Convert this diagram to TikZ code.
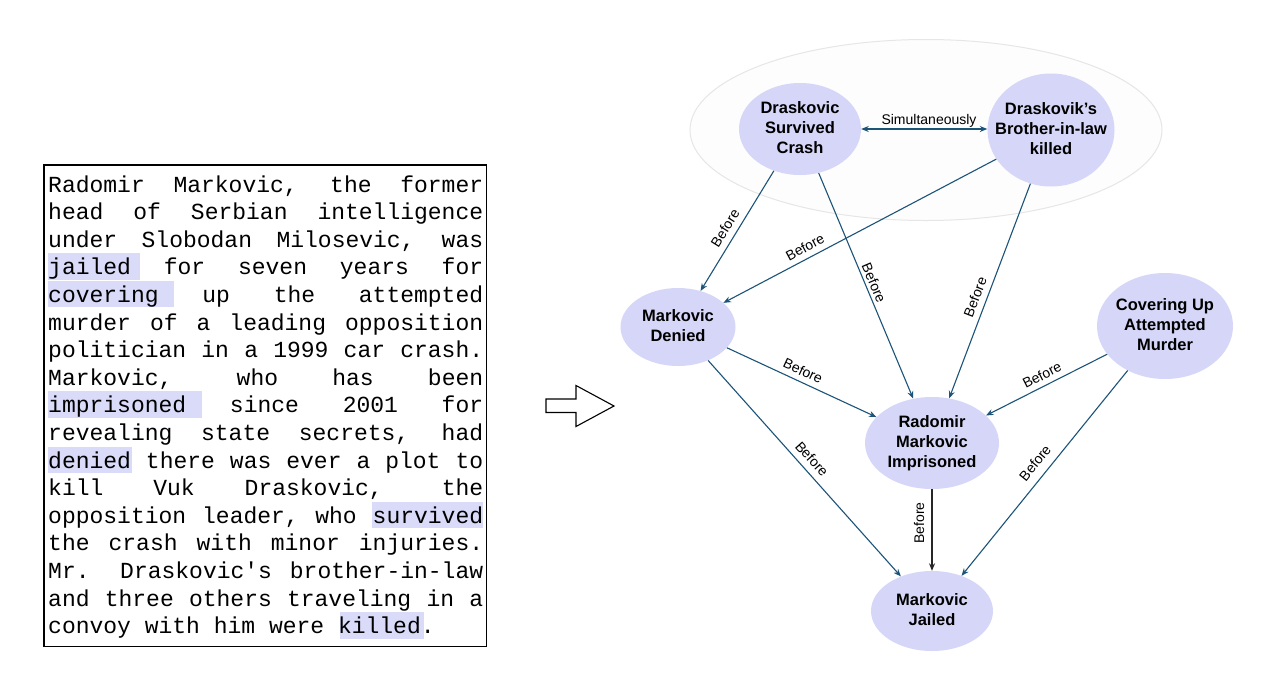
\documentclass[tikz,border=0pt]{standalone}
\usepackage{fontspec}
\setmainfont{Liberation Sans}
\newfontfamily\monofam{Liberation Mono}
\usetikzlibrary{shapes.geometric,arrows.meta}
\definecolor{nodefill}{HTML}{D6D7F8}
\definecolor{hilite}{HTML}{D9DBF8}
\definecolor{edgeblue}{HTML}{1C5379}
\definecolor{groupline}{HTML}{E6E6E6}
\definecolor{groupfill}{HTML}{FDFDFD}
\newcommand\jline[1]{\makebox[435pt][s]{\spaceskip=13.8pt plus 1fil\relax #1}}
\newcommand\ctext[1]{\makebox[0pt]{\begin{tabular}{@{}c@{}}#1\end{tabular}}}
\begin{document}
\begin{tikzpicture}[x=1pt,y=-1pt,
  ev/.style={ellipse, fill=nodefill, inner sep=0pt, font=\bfseries\fontsize{16.5}{20}\selectfont},
  rel/.style={draw=edgeblue, line width=1.1pt, -{Stealth[length=7.5pt,width=6pt]}},
  lbl/.style={font=\fontsize{14}{16}\selectfont, inner sep=0pt},
  txt/.style={anchor=base west, inner sep=0pt, font=\monofam\fontsize{23}{27.6}\selectfont},
  hl/.style={fill=hilite}]
\useasboundingbox[fill=white] (0,0) rectangle (1288,691);

% highlights
\fill[hl] (48,253.3) rectangle (140,279.8);
\fill[hl] (48,280.9) rectangle (174,307.4);
\fill[hl] (48,391.3) rectangle (202,417.8);
\fill[hl] (48,446.5) rectangle (131.5,473);
\fill[hl] (371.7,501.7) rectangle (483.3,528.2);
\fill[hl] (340,612.1) rectangle (424,638.6);

% text block
\node[txt] (t1) at (48,192.0) {\jline{Radomir Markovic, the former}};
\node[txt] (t2) at (48,219.6) {\jline{head of Serbian intelligence}};
\node[txt] (t3) at (48,247.2) {\jline{under Slobodan Milosevic, was}};
\node[txt] (t4) at (48,274.8) {\jline{jailed for seven years for}};
\node[txt] (t5) at (48,302.4) {\jline{covering up the attempted}};
\node[txt] (t6) at (48,330.0) {\jline{murder of a leading opposition}};
\node[txt] (t7) at (48,357.6) {\jline{politician in a 1999 car crash.}};
\node[txt] (t8) at (48,385.2) {\jline{Markovic, who has been}};
\node[txt] (t9) at (48,412.8) {\jline{imprisoned since 2001 for}};
\node[txt] (t10) at (48,440.4) {\jline{revealing state secrets, had}};
\node[txt] (t11) at (48,468.0) {\jline{denied there was ever a plot to}};
\node[txt] (t12) at (48,495.6) {\jline{kill Vuk Draskovic, the}};
\node[txt] (t13) at (48,523.2) {\jline{opposition leader, who survived}};
\node[txt] (t14) at (48,550.8) {\jline{the crash with minor injuries.}};
\node[txt] (t15) at (48,578.4) {\jline{Mr. Draskovic's brother-in-law}};
\node[txt] (t16) at (48,606.0) {\jline{and three others traveling in a}};
\node[txt] (t17) at (48,633.6) {convoy with him were killed.};
\draw[line width=1.2pt] (44,165) rectangle (486.5,646.5);

% hollow arrow
\draw[line width=1.1pt, line join=miter] (546,399) -- (576,399) -- (576,385.5) -- (614,406) -- (576,426.5) -- (576,412.5) -- (546,412.5) -- cycle;

% group ellipse
\node[ellipse, draw=groupline, fill=groupfill, line width=1pt, minimum width=472pt, minimum height=181pt, inner sep=0pt] (grp) at (926,130) {};

% events
\node[ev, minimum width=122pt, minimum height=92pt] (surv) at (800,129) {\ctext{Draskovic\\Survived\\Crash}};
\node[ev, minimum width=127pt, minimum height=113pt] (bro) at (1051,130) {\ctext{Draskovik’s\\Brother-in-law\\killed}};
\node[ev, minimum width=115pt, minimum height=78pt] (den) at (678,327) {\ctext{Markovic\\Denied}};
\node[ev, minimum width=136pt, minimum height=106pt] (cov) at (1165,326) {\ctext{Covering Up\\Attempted\\Murder}};
\node[ev, minimum width=134pt, minimum height=92pt] (imp) at (932,443) {\ctext{Radomir\\Markovic\\Imprisoned}};
\node[ev, minimum width=122pt, minimum height=80pt] (jail) at (932,611) {\ctext{Markovic\\Jailed}};

% relations
\draw[rel, {Stealth[length=7.5pt,width=6pt]}-{Stealth[length=7.5pt,width=6pt]}] (surv.east) -- (surv.east -| bro.west);
\draw[rel] (surv.238) -- (den.58);
\draw[rel] (bro.208) -- (den.28);
\draw[rel] (surv.293) -- (imp.113);
\draw[rel] (bro.249) -- (imp.69);
\draw[rel] (den.337) -- (imp.155);
\draw[rel] (cov.206) -- (imp.27);
\draw[rel] (den.312) -- (jail.132);
\draw[rel] (cov.230) -- (jail.50);
\draw[rel, draw=black!85] (imp.south) -- (jail.north);

% labels
\node[lbl] (lsim) at (929,121) {Simultaneously};
\node[lbl, rotate=58] (l1) at (725,228) {Before};
\node[lbl, rotate=28] (l2) at (805,247) {Before};
\node[lbl, rotate=-67] (l3) at (874,283) {Before};
\node[lbl, rotate=69] (l4) at (975,297) {Before};
\node[lbl, rotate=-25] (l5) at (803,371) {Before};
\node[lbl, rotate=27] (l6) at (1042,375) {Before};
\node[lbl, rotate=-48] (l7) at (812,459) {Before};
\node[lbl, rotate=51] (l8) at (1035,463) {Before};
\node[lbl, rotate=90] (l9) at (919,523) {Before};
\end{tikzpicture}
\end{document}
